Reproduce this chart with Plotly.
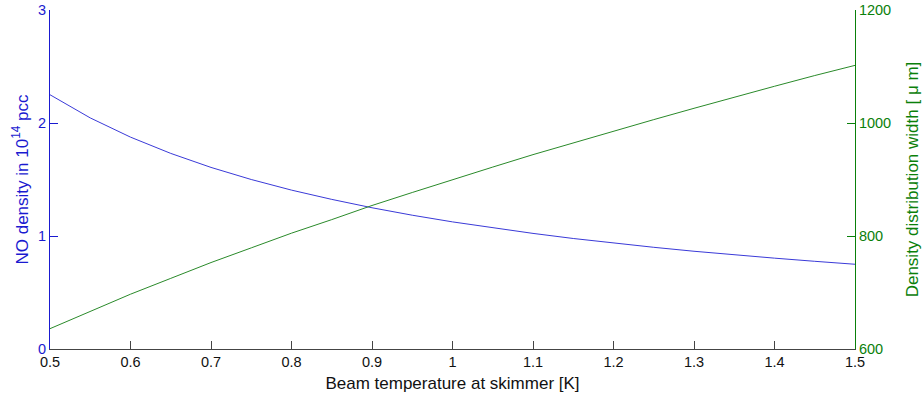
import plotly.graph_objects as go

temperature = [0.5, 0.55, 0.6, 0.65, 0.7, 0.75, 0.8, 0.85, 0.9, 0.95, 1.0,
               1.05, 1.1, 1.15, 1.2, 1.25, 1.3, 1.35, 1.4, 1.45, 1.5]
no_density = [2.25, 2.045, 1.875, 1.731, 1.607, 1.5, 1.406, 1.324, 1.25, 1.184, 1.125,
              1.071, 1.023, 0.978, 0.9375, 0.9, 0.865, 0.833, 0.804, 0.776, 0.75]
width_um = [636, 667, 697, 725, 753, 779, 805, 829, 854, 877, 900,
            922, 944, 965, 986, 1006, 1026, 1046, 1065, 1084, 1102]

x_ticks = [0.5, 0.6, 0.7, 0.8, 0.9, 1.0, 1.1, 1.2, 1.3, 1.4, 1.5]
x_tick_text = ["0.5", "0.6", "0.7", "0.8", "0.9", "1", "1.1", "1.2", "1.3", "1.4", "1.5"]
left_ticks = [0, 1, 2, 3]
right_ticks = [600, 800, 1000, 1200]

BLUE = "#1a1ad0"
GREEN = "#0a800a"
FONT = "Liberation Sans, Arial, sans-serif"

fig = go.Figure()
fig.add_trace(go.Scatter(x=temperature, y=no_density, mode="lines",
                         line=dict(color="#3a3ad8", width=1), yaxis="y", showlegend=False))
fig.add_trace(go.Scatter(x=temperature, y=width_um, mode="lines",
                         line=dict(color="#2a8a2a", width=1), yaxis="y2", showlegend=False))

fig.update_layout(
    width=924, height=400,
    margin=dict(l=50, r=69, t=10, b=51, autoexpand=False),
    plot_bgcolor="white", paper_bgcolor="white",
    font=dict(family=FONT, size=14.5, color="#222"),
    xaxis=dict(range=[0.5, 1.5], tickvals=x_ticks, ticktext=x_tick_text, automargin=False,
               ticks="inside", ticklen=8, tickcolor="#444", showline=True, linecolor="#444",
               showgrid=False, zeroline=False,
               title=dict(text="Beam temperature at skimmer [K]", font=dict(size=17, color="#111"), standoff=7),
               tickfont=dict(size=14.5, color="#111")),
    xaxis2=dict(range=[0.5, 1.5], tickvals=x_ticks, overlaying="x", side="top", anchor="y", automargin=False,
                ticks="inside", ticklen=8, tickcolor="#444", showline=True, linecolor="#888",
                showticklabels=False, showgrid=False, zeroline=False),
    yaxis=dict(range=[0, 3], tickvals=left_ticks, ticks="inside", ticklen=8, tickcolor=BLUE, automargin=False,
               showline=True, linecolor=BLUE, showgrid=False, zeroline=False,
               tickfont=dict(size=14.5, color=BLUE),
               title=dict(text="NO density in 10<sup>14</sup> pcc", font=dict(size=17, color=BLUE), standoff=5)),
    yaxis2=dict(range=[600, 1200], tickvals=right_ticks, overlaying="y", side="right", anchor="x", automargin=False,
                ticks="inside", ticklen=8, tickcolor=GREEN,
                showline=True, linecolor=GREEN, showgrid=False, zeroline=False,
                tickfont=dict(size=14.5, color=GREEN),
                title=dict(text="Density distribution width [ μ m]", font=dict(size=17, color=GREEN), standoff=15)),
)

fig.write_html("out.html", config={"displayModeBar": False},
               post_script="document.body.style.margin='0';document.body.style.overflow='hidden';")
